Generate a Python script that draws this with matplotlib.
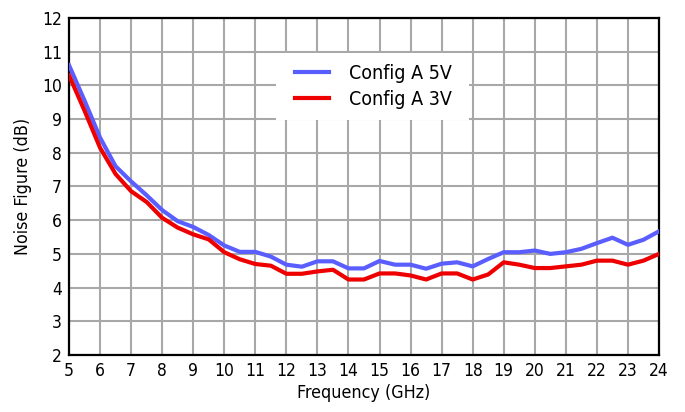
import matplotlib
matplotlib.use("Agg")
import matplotlib.pyplot as plt
from matplotlib.patches import Rectangle

plt.rcParams['font.family'] = ['DejaVu Sans']
plt.rcParams['font.stretch'] = 'condensed'

freq_ghz = [5, 5.5, 6, 6.5, 7, 7.5, 8, 8.5, 9, 9.5, 10, 10.5, 11, 11.5, 12, 12.5,
            13, 13.5, 14, 14.5, 15, 15.5, 16, 16.5, 17, 17.5, 18, 18.5, 19, 19.5,
            20, 20.5, 21, 21.5, 22, 22.5, 23, 23.5, 24]
nf_5v = [10.6, 9.55, 8.45, 7.6, 7.15, 6.74, 6.3, 5.97, 5.8, 5.56, 5.25, 5.06, 5.06, 4.92,
         4.68, 4.62, 4.78, 4.78, 4.57, 4.57, 4.79, 4.68, 4.68, 4.56, 4.71, 4.75, 4.63,
         4.85, 5.05, 5.05, 5.1, 5.0, 5.05, 5.15, 5.32, 5.48, 5.27, 5.42, 5.67]
nf_3v = [10.3, 9.25, 8.15, 7.37, 6.86, 6.54, 6.07, 5.78, 5.58, 5.43, 5.05, 4.84, 4.7, 4.65,
         4.41, 4.41, 4.48, 4.53, 4.24, 4.24, 4.42, 4.42, 4.36, 4.24, 4.42, 4.42, 4.24,
         4.39, 4.75, 4.68, 4.58, 4.58, 4.63, 4.68, 4.8, 4.8, 4.68, 4.8, 5.0]
series_labels = ["Config A 5V", "Config A 3V"]
x_ticks = list(range(5, 25))
y_ticks = list(range(2, 13))

fig = plt.figure(figsize=(6.85, 4.12), dpi=100)
ax = fig.add_axes([69/685, 1 - 355/412, 590/685, 337/412])

ax.plot(freq_ghz, nf_5v, color='#5a5eff', lw=3, label=series_labels[0], zorder=3)
ax.plot(freq_ghz, nf_3v, color='#ee0000', lw=3, label=series_labels[1], zorder=3)

ax.set_xlim(5, 24)
ax.set_ylim(2, 12)
ax.set_xticks(x_ticks)
ax.set_yticks(y_ticks)
ax.grid(True, color='#a8a8a8', lw=1.5)
ax.set_axisbelow(True)
ax.tick_params(length=0, labelsize=12.5, pad=5)
for s in ax.spines.values():
    s.set_color('black')
    s.set_linewidth(1.6)

ax.set_xlabel("Frequency (GHz)", fontsize=12.8, labelpad=3)
ax.set_ylabel("Noise Figure (dB)", fontsize=12.8, labelpad=7)

# white legend background box (axes-fraction coordinates)
ax.add_patch(Rectangle(((276-69)/590, (355-119.5)/337), (469-276)/590, 67/337,
                       transform=ax.transAxes, facecolor='white', edgecolor='none',
                       zorder=1))

leg = ax.legend(loc='upper left', bbox_to_anchor=((295-69)/590, (355-64)/337),
                frameon=False, fontsize=14, handlelength=1.75, handletextpad=1.05,
                borderpad=0, borderaxespad=0, labelspacing=0.36)
for h in leg.get_lines():
    h.set_linewidth(3)

fig.savefig("out.png", dpi=100)
